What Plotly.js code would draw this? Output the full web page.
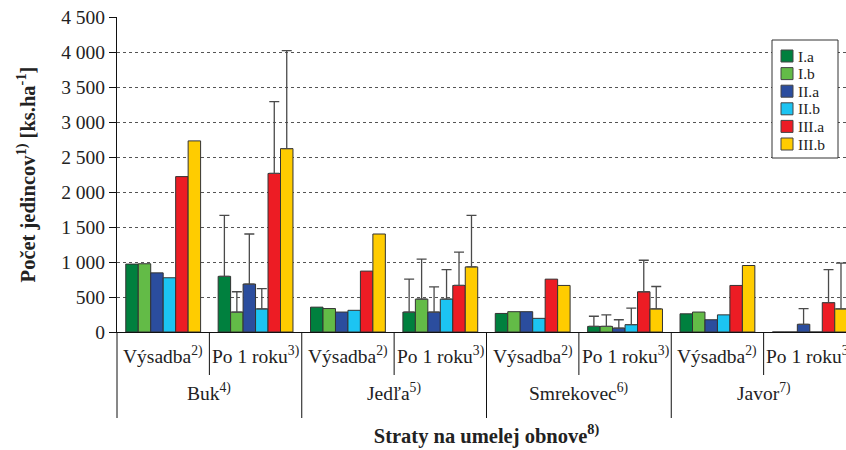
<!DOCTYPE html>
<html><head><meta charset="utf-8">
<script src="https://cdn.plot.ly/plotly-3.0.1.min.js"></script>
<style>html,body{margin:0;padding:0;overflow:hidden;background:#fff}</style>
</head><body><div id="chart"></div>
<script>
// ---- data ----
const series = ['I.a', 'I.b', 'II.a', 'II.b', 'III.a', 'III.b'];
const colors = ['#00803E', '#63BB47', '#2B4D9E', '#1CC4F2', '#ED1C24', '#FFCC00'];
const subgroups = ['Výsadba', 'Po 1 roku'];
const subNotes = ['2)', '3)'];
const groups = ['Buk', 'Jedľa', 'Smrekovec', 'Javor'];
const groupNotes = ['4)', '5)', '6)', '7)'];
const yTitle = 'Počet jedincov<sup>1)</sup> [ks.ha<sup>-1</sup>]';
const xTitle = 'Straty na umelej obnove<sup>8)</sup>';

// order: Buk-Výsadba, Buk-Po 1 roku, Jedľa-V, Jedľa-P, Smrekovec-V, Smrekovec-P, Javor-V, Javor-P
const valIa   = [970, 795, 355, 285, 265, 80, 260, 0];
const valIb   = [975, 285, 335, 470, 290, 80, 285, 0];
const valIIa  = [845, 685, 285, 285, 290, 55, 175, 110];
const valIIb  = [775, 330, 310, 470, 195, 105, 245, 0];
const valIIIa = [2220, 2265, 870, 665, 755, 575, 665, 420];
const valIIIb = [2730, 2620, 1400, 930, 665, 330, 950, 330];

// upper error (only for "Po 1 roku"); NaN = no error bar
const errIa   = [NaN, 870, NaN, 470, NaN, 145, NaN, NaN];
const errIb   = [NaN, 290, NaN, 570, NaN, 165, NaN, NaN];
const errIIa  = [NaN, 715, NaN, 360, NaN, 120, NaN, 225];
const errIIb  = [NaN, 290, NaN, 420, NaN, 235, NaN, NaN];
const errIIIa = [NaN, 1025, NaN, 475, NaN, 450, NaN, 470];
const errIIIb = [NaN, 1400, NaN, 735, NaN, 320, NaN, 655];

const values = [valIa, valIb, valIIa, valIIb, valIIIa, valIIIb];
const errors = [errIa, errIb, errIIa, errIIb, errIIIa, errIIIb];

// ---- build ----
const serif = 'Liberation Serif';
const xs = [];
groups.forEach((g, gi) => subgroups.forEach((s, si) => xs.push(gi * subgroups.length + si)));

const traces = series.map((name, i) => ({
  type: 'bar', name: name, x: xs, y: values[i],
  marker: {color: colors[i], line: {color: '#333', width: 1}},
  error_y: {type: 'data', symmetric: false, array: errors[i], color: '#4a4a4a', thickness: 1.3, width: 5},
  showlegend: false,
  hovertemplate: name + ': %{y}<extra></extra>'
}));

// pixel helpers for layout decoration (plot area 117..856 x 17..332)
const L = 117, R = 856, T = 17, B = 332;
const px = p => (p - L) / (R - L);
const py = p => (B - p) / (B - T);

const shapes = [];
const annotations = [];
groups.forEach((g, gi) => {
  const start = gi * subgroups.length - 0.5;
  shapes.push({type: 'line', xref: 'x', yref: 'paper', x0: start + 1, x1: start + 1, y0: 0, y1: py(375), line: {color: '#111', width: 1}});
  if (gi > 0) shapes.push({type: 'line', xref: 'x', yref: 'paper', x0: start, x1: start, y0: 0, y1: py(418), line: {color: '#111', width: 1}});
  annotations.push({xref: 'x', yref: 'paper', x: start + 1, y: py(392), yanchor: 'middle', showarrow: false,
    text: g + '<sup>' + groupNotes[gi] + '</sup>', font: {family: serif, size: 19.5, color: '#222'}});
  subgroups.forEach((s, si) => {
    annotations.push({xref: 'x', yref: 'paper', x: gi * subgroups.length + si, y: py(355), yanchor: 'middle', showarrow: false,
      text: s + '<sup>' + subNotes[si] + '</sup>', font: {family: serif, size: 19.5, color: '#222'}});
  });
});
shapes.push({type: 'line', xref: 'paper', yref: 'paper', x0: 0, x1: 0, y0: 0, y1: py(418), line: {color: '#111', width: 1}});

// legend box
shapes.push({type: 'rect', xref: 'paper', yref: 'paper', x0: px(772), x1: px(838), y0: py(158), y1: py(40),
  fillcolor: '#fff', line: {color: '#333', width: 1}});
series.forEach((name, i) => {
  const c = 56 + 17.6 * i;
  shapes.push({type: 'rect', xref: 'paper', yref: 'paper', x0: px(781), x1: px(793), y0: py(c + 6), y1: py(c - 6),
    fillcolor: colors[i], line: {color: '#444', width: 1}});
  annotations.push({xref: 'paper', yref: 'paper', x: px(796), y: py(c), xanchor: 'left', yanchor: 'middle', showarrow: false,
    height: 15, valign: 'middle',
    text: name, font: {family: serif, size: 15.5, color: '#222'}});
});

const layout = {
  width: 856, height: 450,
  margin: {l: L, r: 0, t: T, b: 450 - B},
  paper_bgcolor: '#fff', plot_bgcolor: '#fff',
  font: {family: serif},
  separators: ', ',
  barmode: 'group', bargap: 0.19, bargroupgap: 0,
  showlegend: false,
  xaxis: {range: [-0.5, 7.5], showgrid: false, zeroline: false, showticklabels: false, ticks: '',
    showline: true, linecolor: '#111', linewidth: 1, fixedrange: true,
    title: {text: xTitle, standoff: 96, font: {family: serif, size: 20.5, weight: 'bold', color: '#222'}}},
  yaxis: {range: [0, 4500], dtick: 500, tick0: 0, tickformat: ',d', ticks: 'outside', ticklen: 7, tickcolor: '#111',
    showline: true, linecolor: '#111', linewidth: 1, zeroline: false,
    showgrid: true, gridcolor: '#555', griddash: 'dot', gridwidth: 1, fixedrange: true,
    tickfont: {family: serif, size: 19.5, color: '#222'},
    title: {text: yTitle, standoff: 20, font: {family: serif, size: 20.5, weight: 'bold', color: '#222'}}},
  shapes: shapes,
  annotations: annotations
};

Plotly.newPlot('chart', traces, layout, {displayModeBar: false, staticPlot: true});
</script>
</body></html>
